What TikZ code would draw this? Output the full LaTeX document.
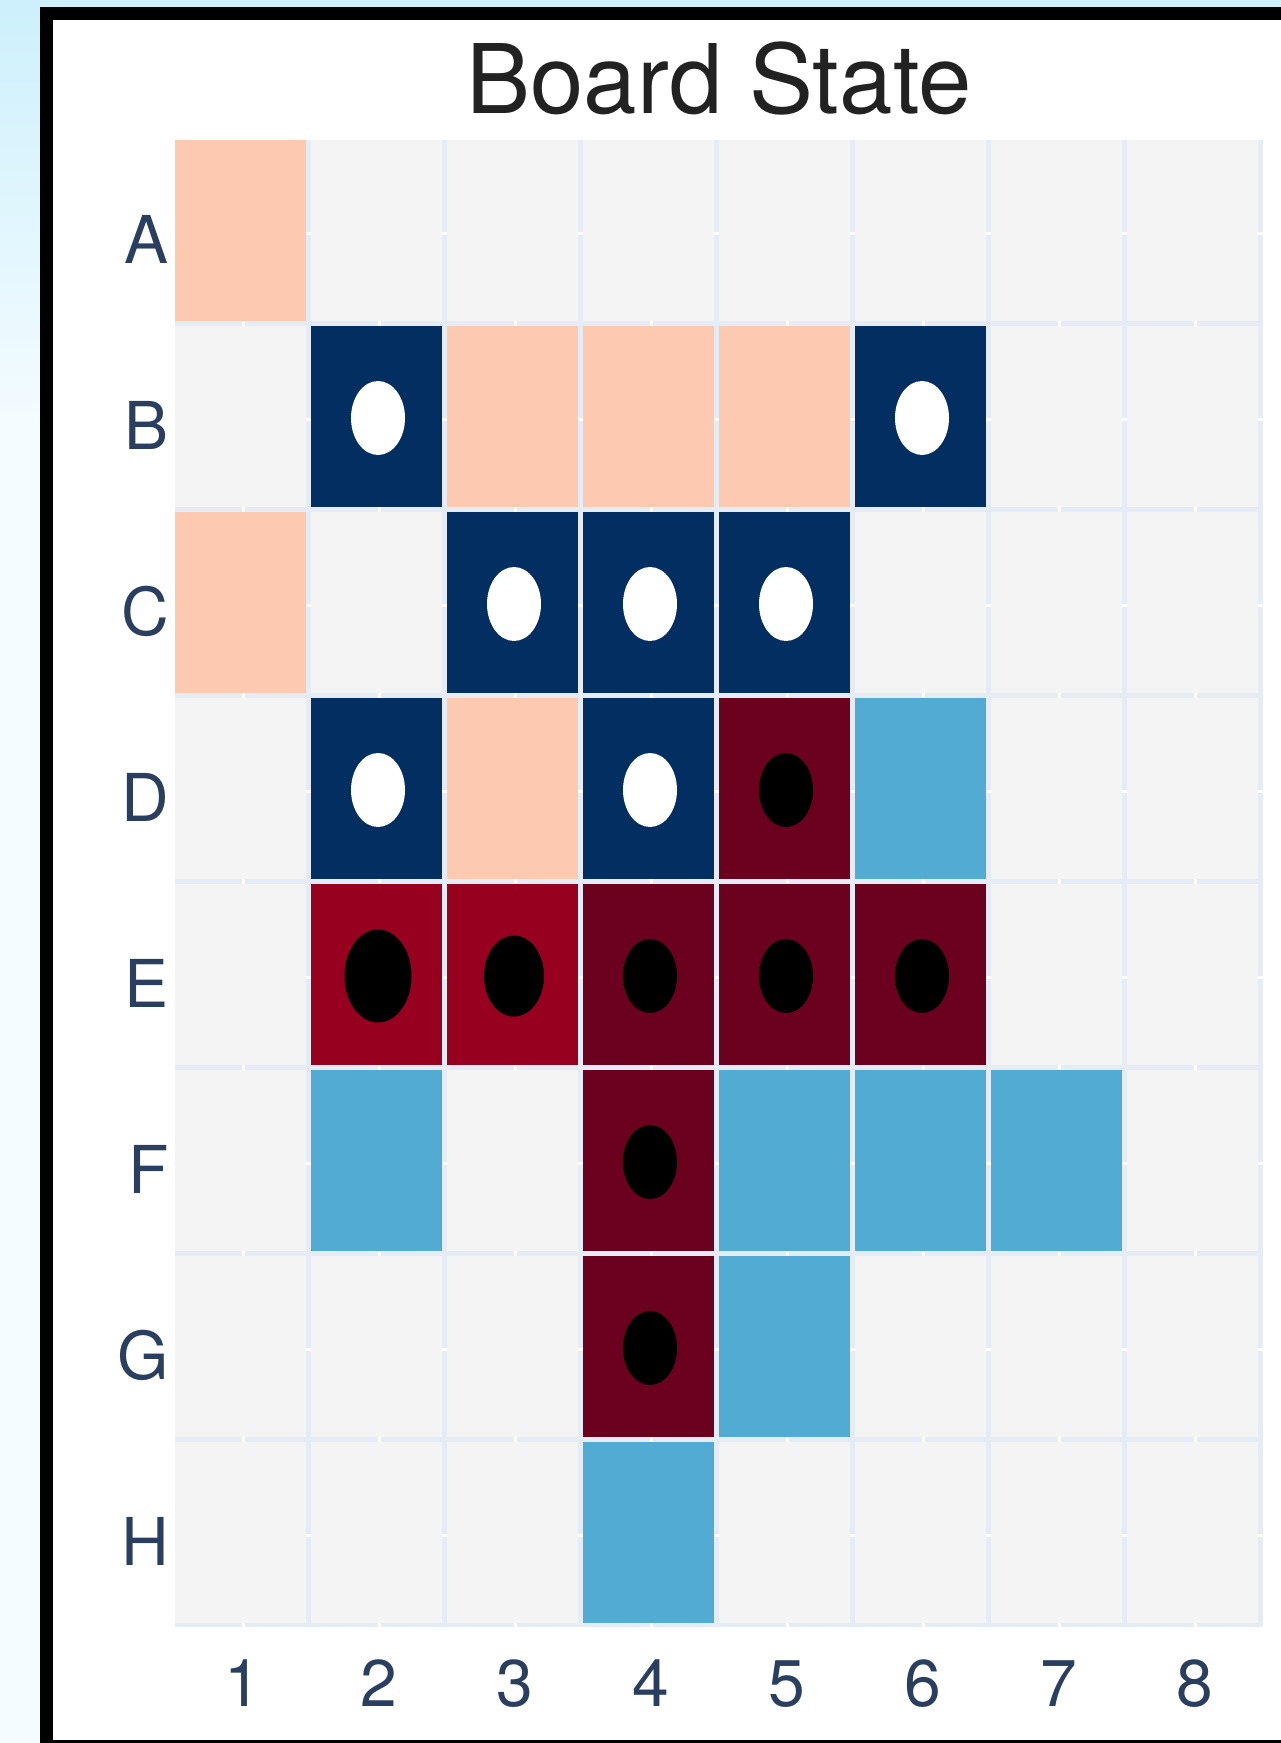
\documentclass[tikz,border=0pt]{standalone}
\usepackage{fontspec}
\setmainfont{TeX Gyre Heros}
\usetikzlibrary{positioning, calc}
\definecolor{cbgtop}{RGB}{205,240,252}
\definecolor{cbgbot}{RGB}{244,252,255}
\definecolor{cgap}{RGB}{229,236,246}
\definecolor{cempty}{RGB}{244,244,244}
\definecolor{cpeach}{RGB}{253,202,177}
\definecolor{cnavy}{RGB}{3,46,97}
\definecolor{cwine}{RGB}{108,0,31}
\definecolor{cred}{RGB}{152,0,32}
\definecolor{csky}{RGB}{82,171,210}
\definecolor{clabel}{RGB}{42,63,95}
\definecolor{ctitle}{RGB}{34,34,34}

\begin{document}
\begin{tikzpicture}[
    x=1pt, y=-1pt,
    cell/.style={rectangle, inner sep=0pt, outer sep=0pt, minimum width=131pt, minimum height=181pt, fill=cempty},
    stone/.style={x radius=27pt, y radius=37pt},
    tickw/.style={white, line width=3pt},
    rowlab/.style={anchor=base east, inner sep=0pt, text=clabel, font=\fontsize{66}{66}\selectfont},
    collab/.style={anchor=base, inner sep=0pt, text=clabel, font=\fontsize{66}{66}\selectfont},
    boardtitle/.style={anchor=base, inner sep=0pt, text=ctitle, font=\fontsize{96}{96}\selectfont}
]
\useasboundingbox (0,0) rectangle (1281,1743);
% page background and frame
\fill[cbgbot] (0,0) rectangle (1281,1743);
\shade[top color=cbgtop, bottom color=cbgbot] (0,0) rectangle (1281,430);
\fill[white] (46.5,13.5) rectangle (1320,1746.5);
\draw[black, line width=13pt] (46.5,13.5) rectangle (1320,1746.5);

\node[boardtitle] (title) at (719,113) {Board State};

% plot area with tick lines showing through the gaps
\fill[cgap] (175,140) rectangle (1263,1627);
\foreach \i in {0,...,7} {
  \draw[tickw] ({243+136*\i},140) -- ({243+136*\i},1627);
}
\foreach \j in {0,...,7} {
  \draw[tickw] (175,{233+186*\j}) -- (1263,{233+186*\j});
}

% empty board
\foreach \r [count=\j from 0] in {A,B,C,D,E,F,G,H} {
  \foreach \c [count=\i from 0] in {1,...,8} {
    \node[cell] (\r\c) at ({240.5+136*\i},{230.5+186*\j}) {};
  }
}

% coloured squares
\foreach \n/\col in {A1/cpeach, B2/cnavy, B3/cpeach, B4/cpeach, B5/cpeach, B6/cnavy,
    C1/cpeach, C3/cnavy, C4/cnavy, C5/cnavy,
    D2/cnavy, D3/cpeach, D4/cnavy, D5/cwine, D6/csky,
    E2/cred, E3/cred, E4/cwine, E5/cwine, E6/cwine,
    F2/csky, F4/cwine, F5/csky, F6/csky, F7/csky,
    G4/cwine, G5/csky, H4/csky} {
  \node[cell, fill=\col] at (\n) {};
}

% stones
\foreach \n/\col in {B2/white, B6/white, C3/white, C4/white, C5/white, D2/white, D4/white,
    D5/black, E4/black, E5/black, E6/black, F4/black, G4/black} {
  \fill[\col] ($(\n)+(1.5,1.5)$) ellipse[stone];
}
\fill[black] ($(E2)+(1.5,1.5)$) ellipse[x radius=33.5pt, y radius=46.5pt];
\fill[black] ($(E3)+(1.5,1.5)$) ellipse[x radius=30pt, y radius=40.5pt];

% axis labels
\foreach \r [count=\j from 0] in {A,B,C,D,E,F,G,H} {
  \node[rowlab] (lab\r) at (169,{263.5+186*\j}) {\r};
}
\foreach \c [count=\i from 0] in {1,...,8} {
  \node[collab] (lab\c) at ({243+136*\i},1706) {\c};
}
\end{tikzpicture}
\end{document}
